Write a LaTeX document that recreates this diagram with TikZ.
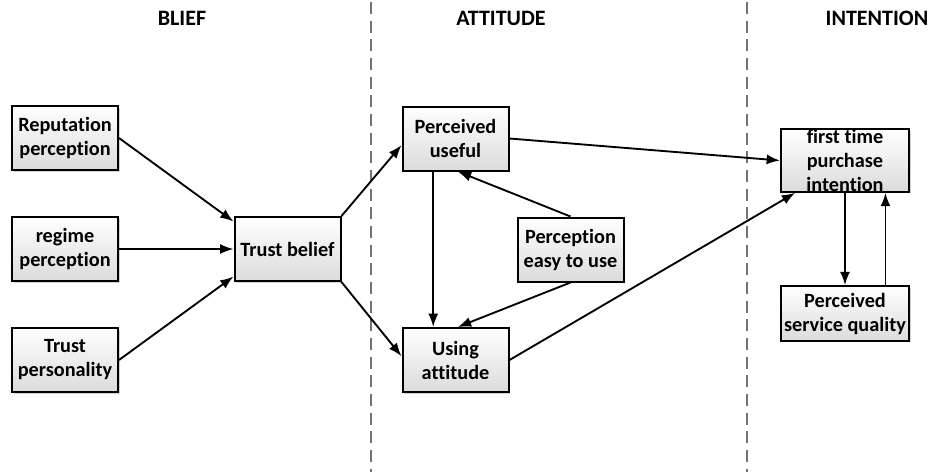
\documentclass[tikz,border=0pt]{standalone}
\usepackage{fontspec}
\setmainfont[Ligatures=NoCommon]{Carlito}
\usetikzlibrary{arrows.meta,shadows}
\begin{document}
\begin{tikzpicture}[x=0.75pt, y=-0.75pt,
                box/.style={draw, line width=1.5pt, rectangle, align=center,
                    top color=white, bottom color=black!14,
                    drop shadow={shadow xshift=1.2pt, shadow yshift=-1.2pt, opacity=.35},
                    minimum width=79.5pt, minimum height=48pt, inner sep=1pt,
                    font=\fontsize{15.2}{18}\selectfont\bfseries},
                title/.style={font=\fontsize{16.5}{18}\selectfont\bfseries},
                arr/.style={-{Latex[length=10pt,width=7.5pt]}, line width=1.4pt},
                divider/.style={dashed, dash pattern=on 9pt off 5pt, draw=black!55, line width=0.8pt}
            ]
            \useasboundingbox (0,0) rectangle (932,472);
            % column titles
            \node[title] (tblief) at (182,18) {BLIEF};
            \node[title] (tattitude) at (501,18) {ATTITUDE};
            \node[title] (tintention) at (877,18) {INTENTION};
            \draw[divider] (371,2) -- (371,472);
            \draw[divider] (747,2) -- (747,472);
            % belief
            \node[box] (reputation) at (65,138) {Reputation\\perception};
            \node[box] (regime) at (65,249) {regime\\perception};
            \node[box] (personality) at (65,360) {Trust\\personality};
            \node[box] (trust) at (287.5,249) {Trust belief};
            % attitude
            \node[box] (useful) at (455.5,138.5) {Perceived\\useful};
            \node[box] (easy) at (570.5,249.5) {Perception\\easy to use};
            \node[box] (using) at (455.5,360) {Using\\attitude};
            % intention
            \node[box, minimum width=96pt, minimum height=47pt,
                label={[font=\fontsize{15.2}{18}\selectfont\bfseries, align=center]center:first time\\purchase\\intention}]
                (intent) at (845,160.5) {};
            \node[box, minimum width=96pt, minimum height=41pt] (service) at (845,313.5) {Perceived\\service quality};
            % connectors
            \draw[arr] (reputation.east) -- (trust.153);
            \draw[arr] (regime.east) -- (trust.west);
            \draw[arr] (personality.east) -- (trust.207);
            \draw[arr] (trust.north east) -- (useful.187);
            \draw[arr] (trust.south east) -- (using.176);
            \draw[arr] (useful.236) -- (useful.236 |- using.north);
            \draw[arr] (easy.north) -- (useful.-86);
            \draw[arr] (easy.south) -- (using.86);
            \draw[arr] (useful.east) -- (intent.west);
            \draw[arr] (using.east) -- (intent.213);
            \draw[arr] (intent.south) -- (service.north);
            \draw[arr] (service.35) -- (service.35 |- intent.south);
        \end{tikzpicture}
\end{document}
